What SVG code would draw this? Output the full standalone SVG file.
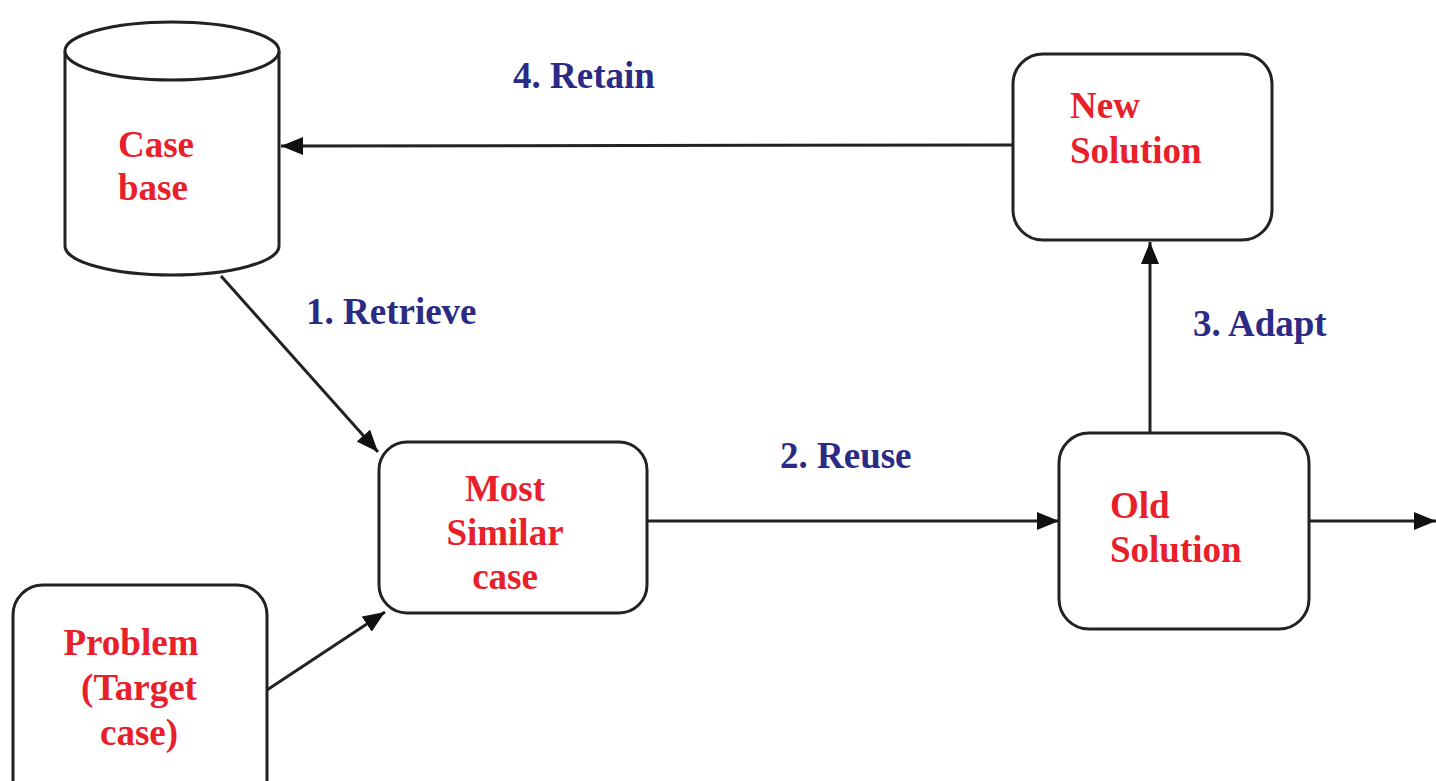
<svg xmlns="http://www.w3.org/2000/svg" width="1436" height="781" viewBox="0 0 1436 781">
<style>
.box{fill:#fff;stroke:#222;stroke-width:3}
.t{font-family:"Liberation Serif","Times New Roman",serif;font-weight:bold;font-size:37px;fill:#e8202a}
.lbl{font-family:"Liberation Serif","Times New Roman",serif;font-weight:bold;font-size:37px;fill:#2b2a85}
.c{stroke:#222;stroke-width:3;fill:none;marker-end:url(#ah)}
</style>
<defs>
<marker id="ah" markerUnits="userSpaceOnUse" markerWidth="24" markerHeight="20" refX="22" refY="9" orient="auto">
<path d="M0,0 L22,9 L0,18 Z" fill="#111"/>
</marker>
</defs>
<rect width="1436" height="781" fill="#fff"/>
<g id="connectors">
<line class="c" x1="1013" y1="145" x2="281" y2="146"/>
<line class="c" x1="221" y1="276" x2="378" y2="452"/>
<line class="c" x1="267" y1="690" x2="385" y2="612"/>
<line class="c" x1="647" y1="521" x2="1059" y2="521"/>
<line class="c" x1="1150" y1="433" x2="1150" y2="242"/>
<line class="c" x1="1309" y1="521" x2="1436" y2="521"/>
</g>
<g id="labels">
<text class="lbl" x="513" y="88">4. Retain</text>
<text class="lbl" x="306" y="324">1. Retrieve</text>
<text class="lbl" x="780" y="468">2. Reuse</text>
<text class="lbl" x="1193" y="336">3. Adapt</text>
</g>
<g id="casebase">
<path class="box" d="M65,51 L65,246 A107,29 0 0 0 279,246 L279,51"/>
<ellipse class="box" cx="172" cy="51" rx="107" ry="29"/>
<text class="t" x="118" y="157">Case</text>
<text class="t" x="118" y="200">base</text>
</g>
<g id="newsolution">
<rect class="box" x="1013" y="54" width="259" height="186" rx="30"/>
<text class="t" x="1070" y="118">New</text>
<text class="t" x="1070" y="163">Solution</text>
</g>
<g id="mostsimilar">
<rect class="box" x="379" y="442" width="268" height="171" rx="28"/>
<text class="t" x="505" y="501" text-anchor="middle">Most</text>
<text class="t" x="505" y="545" text-anchor="middle">Similar</text>
<text class="t" x="505" y="589" text-anchor="middle">case</text>
</g>
<g id="oldsolution">
<rect class="box" x="1059" y="433" width="250" height="196" rx="30"/>
<text class="t" x="1110" y="518">Old</text>
<text class="t" x="1110" y="562">Solution</text>
</g>
<g id="problem">
<rect class="box" x="13" y="585" width="254" height="230" rx="30"/>
<text class="t" x="131" y="655" text-anchor="middle">Problem</text>
<text class="t" x="139" y="700" text-anchor="middle">(Target</text>
<text class="t" x="139" y="745" text-anchor="middle">case)</text>
</g>
</svg>
